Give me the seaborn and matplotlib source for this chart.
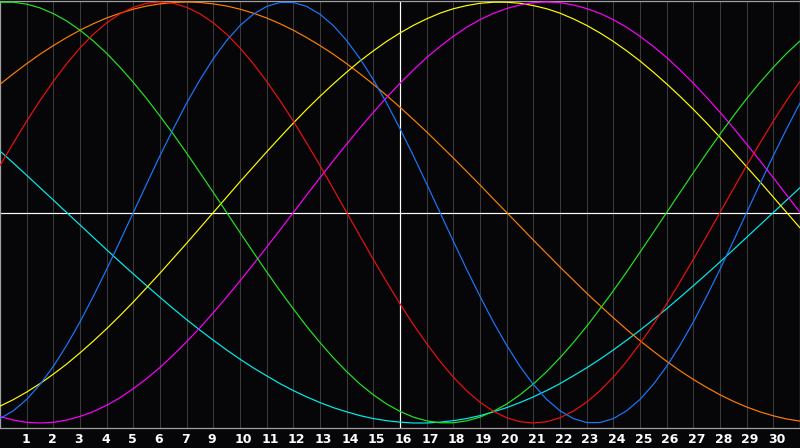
import matplotlib
matplotlib.use("Agg")
import matplotlib.pyplot as plt
import seaborn as sns
import pandas as pd
from matplotlib.transforms import ScaledTranslation

# ---- data (value of each cycle every half day) ----
steps = [i / 2 for i in range(61)]
tick_pos = list(range(1, 30))
tick_labels = ["1", "2", "3", "4", "5", "6", "7", "9", "10", "11", "12", "13", "14",
               "15", "16", "17", "18", "19", "20", "21", "22", "23", "24", "25",
               "26", "27", "28", "29", "30"]

physical = [-0.979, -0.942, -0.888, -0.817, -0.731, -0.631, -0.520, -0.398, -0.270, -0.136,
            0.000, 0.136, 0.270, 0.398, 0.520, 0.631, 0.731, 0.817, 0.888, 0.942,
            0.979, 0.998, 0.998, 0.979, 0.942, 0.888, 0.817, 0.731, 0.631, 0.520,
            0.398, 0.270, 0.136, 0.000, -0.136, -0.270, -0.398, -0.520, -0.631, -0.731,
            -0.817, -0.888, -0.942, -0.979, -0.998, -0.998, -0.979, -0.942, -0.888, -0.817,
            -0.731, -0.631, -0.520, -0.398, -0.270, -0.136, 0.000, 0.136, 0.270, 0.398,
            0.520]
emotional = [0.223, 0.330, 0.434, 0.532, 0.623, 0.707, 0.782, 0.847, 0.901, 0.944,
             0.975, 0.994, 1.000, 0.994, 0.975, 0.944, 0.901, 0.847, 0.782, 0.707,
             0.623, 0.532, 0.434, 0.330, 0.223, 0.112, 0.000, -0.112, -0.223, -0.330,
             -0.434, -0.532, -0.623, -0.707, -0.782, -0.847, -0.901, -0.944, -0.975, -0.994,
             -1.000, -0.994, -0.975, -0.944, -0.901, -0.847, -0.782, -0.707, -0.623, -0.532,
             -0.434, -0.330, -0.223, -0.112, 0.000, 0.112, 0.223, 0.330, 0.434, 0.532,
             0.623]
intellectual = [0.999, 0.999, 0.990, 0.972, 0.945, 0.910, 0.866, 0.815, 0.756, 0.690,
                0.618, 0.541, 0.458, 0.372, 0.282, 0.189, 0.095, 0.000, -0.095, -0.189,
                -0.282, -0.372, -0.458, -0.541, -0.618, -0.690, -0.756, -0.815, -0.866, -0.910,
                -0.945, -0.972, -0.990, -0.999, -0.999, -0.990, -0.972, -0.945, -0.910, -0.866,
                -0.815, -0.756, -0.690, -0.618, -0.541, -0.458, -0.372, -0.282, -0.189, -0.095,
                0.000, 0.095, 0.189, 0.282, 0.372, 0.458, 0.541, 0.618, 0.690, 0.756,
                0.815]
intuitive = [-0.969, -0.986, -0.997, -1.000, -0.997, -0.986, -0.969, -0.946, -0.916, -0.880,
             -0.837, -0.789, -0.736, -0.677, -0.614, -0.547, -0.476, -0.402, -0.325, -0.246,
             -0.165, -0.083, 0.000, 0.083, 0.165, 0.246, 0.325, 0.402, 0.476, 0.547,
             0.614, 0.677, 0.736, 0.789, 0.837, 0.880, 0.916, 0.946, 0.969, 0.986,
             0.997, 1.000, 0.997, 0.986, 0.969, 0.946, 0.916, 0.880, 0.837, 0.789,
             0.736, 0.677, 0.614, 0.547, 0.476, 0.402, 0.325, 0.246, 0.165, 0.083,
             0.000]
aesthetic = [-0.920, -0.889, -0.853, -0.813, -0.768, -0.720, -0.667, -0.611, -0.552, -0.490,
             -0.425, -0.357, -0.288, -0.217, -0.146, -0.073, 0.000, 0.073, 0.146, 0.217,
             0.288, 0.357, 0.425, 0.490, 0.552, 0.611, 0.667, 0.720, 0.768, 0.813,
             0.853, 0.889, 0.920, 0.947, 0.968, 0.983, 0.994, 0.999, 0.999, 0.994,
             0.983, 0.968, 0.947, 0.920, 0.889, 0.853, 0.813, 0.768, 0.720, 0.667,
             0.611, 0.552, 0.490, 0.425, 0.357, 0.288, 0.217, 0.146, 0.073, 0.000,
             -0.073]
awareness = [0.609, 0.659, 0.707, 0.752, 0.793, 0.831, 0.866, 0.897, 0.924, 0.947,
             0.966, 0.981, 0.991, 0.998, 1.000, 0.998, 0.991, 0.981, 0.966, 0.947,
             0.924, 0.897, 0.866, 0.831, 0.793, 0.752, 0.707, 0.659, 0.609, 0.556,
             0.500, 0.442, 0.383, 0.321, 0.259, 0.195, 0.131, 0.065, 0.000, -0.065,
             -0.131, -0.195, -0.259, -0.321, -0.383, -0.442, -0.500, -0.556, -0.609, -0.659,
             -0.707, -0.752, -0.793, -0.831, -0.866, -0.897, -0.924, -0.947, -0.966, -0.981,
             -0.991]
spiritual = [0.292, 0.235, 0.177, 0.118, 0.059, 0.000, -0.059, -0.118, -0.177, -0.235,
             -0.292, -0.348, -0.403, -0.457, -0.509, -0.559, -0.607, -0.653, -0.697, -0.738,
             -0.776, -0.813, -0.846, -0.876, -0.903, -0.927, -0.947, -0.965, -0.979, -0.989,
             -0.996, -1.000, -1.000, -0.996, -0.989, -0.979, -0.965, -0.947, -0.927, -0.903,
             -0.876, -0.846, -0.813, -0.776, -0.738, -0.697, -0.653, -0.607, -0.559, -0.509,
             -0.457, -0.403, -0.348, -0.292, -0.235, -0.177, -0.118, -0.059, 0.000, 0.059,
             0.118]

cycles = ["Spiritual", "Awareness", "Aesthetic", "Intuitive",
          "Intellectual", "Emotional", "Physical"]
palette = {
    "Physical": "#1a78ff",
    "Emotional": "#f01010",
    "Intellectual": "#22e622",
    "Intuitive": "#ff00ff",
    "Aesthetic": "#ffff00",
    "Awareness": "#ff7f00",
    "Spiritual": "#00f0f0",
}

df = pd.DataFrame({
    "step": steps,
    "Physical": physical,
    "Emotional": emotional,
    "Intellectual": intellectual,
    "Intuitive": intuitive,
    "Aesthetic": aesthetic,
    "Awareness": awareness,
    "Spiritual": spiritual,
}).melt(id_vars="step", var_name="cycle", value_name="value")

# ---- drawing ----
sns.set_theme(style="dark")
plt.rcParams["font.family"] = ["DejaVu Sans"]

bg = "#060609"
fig = plt.figure(figsize=(8, 4.48), dpi=100, facecolor=bg)
ax = fig.add_axes([0, 20 / 448, 1, 427 / 448])
ax.set_facecolor(bg)

ax.set_xticks(tick_pos)
ax.grid(axis="x", color="#3a3a3a", linewidth=0.75)
ax.grid(axis="y", visible=False)
ax.set_axisbelow(True)
ax.axhline(0, color="white", linewidth=0.85, zorder=1.5)
ax.axvline(15, color="white", linewidth=0.85, zorder=1.5)

sns.lineplot(data=df, x="step", y="value", hue="cycle", hue_order=cycles,
             palette=palette, linewidth=0.85, legend=False, errorbar=None,
             ax=ax, zorder=3)

ax.set_xlim(0, 30)
ax.set_ylim(-1.0238, 1.0048)
ax.set_yticks([])
ax.set_xlabel("")
ax.set_ylabel("")

ax.set_xticklabels(tick_labels)
ax.tick_params(axis="x", length=0, pad=3.5, labelsize=9, colors="white")
offset = ScaledTranslation(-5.5 / 100, 0, fig.dpi_scale_trans)
for lbl in ax.get_xticklabels():
    lbl.set_fontweight("bold")
    lbl.set_horizontalalignment("left")
    lbl.set_transform(lbl.get_transform() + offset)

for s in ax.spines.values():
    s.set_visible(True)
    s.set_color("#a0a0a0")
    s.set_linewidth(0.9)

fig.savefig("out.png", dpi=100, facecolor=bg)
